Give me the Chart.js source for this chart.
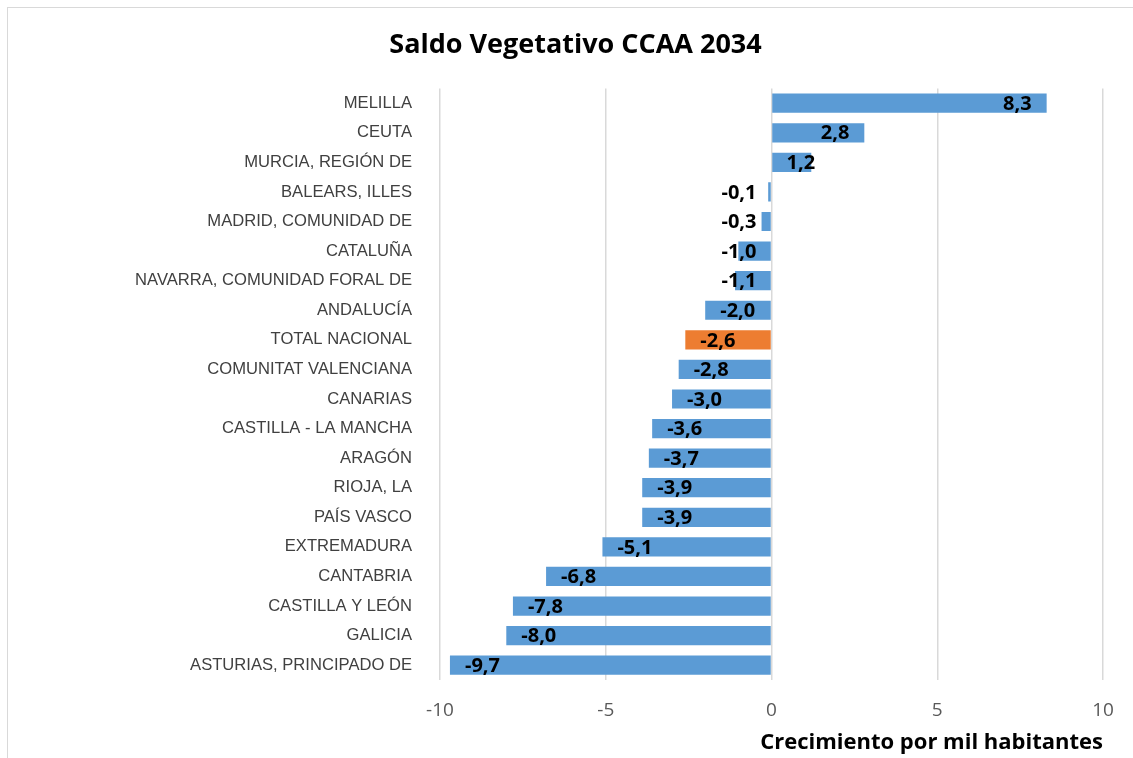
<!DOCTYPE html>
<html>
<head>
<meta charset="utf-8">
<script src="https://cdn.jsdelivr.net/npm/chart.js"></script>
<style>
  html, body { margin: 0; padding: 0; background: #fff; }
  #wrap { position: relative; width: 1133px; height: 758px; overflow: hidden; }
  #frame { position: absolute; left: 7px; top: 7px; width: 1200px; height: 800px; border: 1px solid #d9d9d9; box-sizing: border-box; }
  canvas { position: absolute; left: 0; top: 0; }
</style>
</head>
<body>
<div id="wrap">
  <div id="frame"></div>
  <canvas id="saldoChart" width="1133" height="758"></canvas>
</div>
<script>
// --- Saldo vegetativo por CCAA, 2034 ---

const regiones = [
    'MELILLA', 'CEUTA', 'MURCIA, REGIÓN DE', 'BALEARS, ILLES', 'MADRID, COMUNIDAD DE',
    'CATALUÑA', 'NAVARRA, COMUNIDAD FORAL DE', 'ANDALUCÍA', 'TOTAL NACIONAL', 'COMUNITAT VALENCIANA',
    'CANARIAS', 'CASTILLA - LA MANCHA', 'ARAGÓN', 'RIOJA, LA', 'PAÍS VASCO',
    'EXTREMADURA', 'CANTABRIA', 'CASTILLA Y LEÓN', 'GALICIA', 'ASTURIAS, PRINCIPADO DE'
];
const saldo = [8.3, 2.8, 1.2, -0.1, -0.3, -1.0, -1.1, -2.0, -2.6, -2.8,
               -3.0, -3.6, -3.7, -3.9, -3.9, -5.1, -6.8, -7.8, -8.0, -9.7];
const ejeX = [-10, -5, 0, 5, 10];
const destacado = 'TOTAL NACIONAL';

const AZUL = '#5b9bd5';
const NARANJA = '#ed7d31';
const PAD = 15; // label padding inside the bar end

// Bar value labels, Excel "inside end" style, kept clear of the zero line
const valueLabels = {
    id: 'valueLabels',
    afterDatasetsDraw(chart) {
        const ctx = chart.ctx;
        const meta = chart.getDatasetMeta(0);
        const zero = chart.scales.x.getPixelForValue(0);
        ctx.save();
        ctx.font = 'bold 20px "Open Sans"';
        ctx.fillStyle = '#000000';
        ctx.textAlign = 'left';
        ctx.textBaseline = 'middle';
        meta.data.forEach((bar, i) => {
            const v = saldo[i];
            const text = v.toFixed(1).replace('.', ',');
            const w = ctx.measureText(text).width;
            let left;
            if (v >= 0) {
                left = Math.max(bar.x - PAD - w, zero + PAD);
            } else {
                left = Math.min(bar.x + PAD, zero - PAD - w);
            }
            ctx.fillText(text, left, bar.y + 1);
        });
        ctx.restore();
    }
};

const ctx = document.getElementById('saldoChart').getContext('2d');
new Chart(ctx, {
    type: 'bar',
    data: {
        labels: regiones,
        datasets: [{
            data: saldo,
            backgroundColor: regiones.map(r => r === destacado ? NARANJA : AZUL),
            borderWidth: 0,
            categoryPercentage: 1,
            barPercentage: 0.65
        }]
    },
    options: {
        indexAxis: 'y',
        responsive: false,
        animation: false,
        layout: { padding: { left: 48, right: 30, top: 0, bottom: 0 } },
        plugins: {
            legend: { display: false },
            tooltip: { enabled: false },
            title: {
                display: true,
                text: 'Saldo Vegetativo CCAA 2034',
                color: '#000000',
                font: { family: 'Open Sans', size: 27, weight: 'bold' },
                padding: { top: 29, bottom: 27 }
            }
        },
        scales: {
            x: {
                min: ejeX[0],
                max: ejeX[ejeX.length - 1],
                afterBuildTicks: (scale) => { scale.ticks = ejeX.map(v => ({ value: v })); },
                afterFit: (scale) => { scale.height = 78; },
                grid: { color: '#d9d9d9', lineWidth: 1.5, drawTicks: false },
                border: { display: false },
                ticks: {
                    color: '#595959',
                    font: { family: 'Open Sans', size: 19 },
                    padding: 19
                },
                title: {
                    display: true,
                    text: 'Crecimiento por mil habitantes',
                    align: 'end',
                    color: '#000000',
                    font: { family: 'Open Sans', size: 22, weight: 'bold' },
                    padding: { top: 0, bottom: 2 }
                }
            },
            y: {
                afterFit: (scale) => { scale.width = 392; },
                grid: { display: false },
                border: { display: false },
                ticks: {
                    color: '#404040',
                    font: { family: 'Liberation Sans', size: 16.6 },
                    padding: 20
                }
            }
        }
    },
    plugins: [valueLabels]
});
</script>
</body>
</html>
